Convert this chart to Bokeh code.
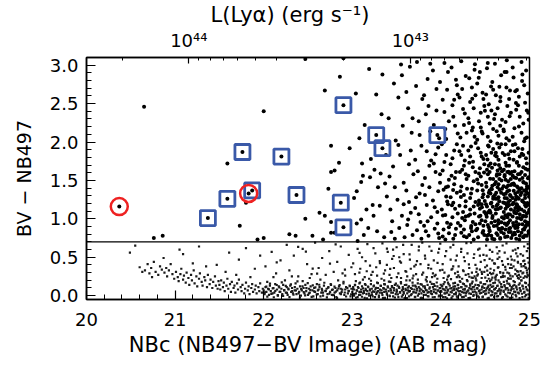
import math
from bokeh.plotting import figure
from bokeh.models import LinearAxis, FixedTicker, Span, Range1d, NumeralTickFormatter
from bokeh.embed import file_html
from bokeh.resources import INLINE

# ---------------- data ----------------
# candidates marked with blue squares
sq_x = [21.37, 21.59, 21.76, 21.87, 22.20, 22.37, 22.87, 22.90, 22.90, 23.27, 23.34, 23.96]
sq_y = [1.01, 1.26, 1.87, 1.37, 1.81, 1.31, 1.21, 0.89, 2.48, 2.09, 1.92, 2.09]
# candidates marked with red circles
rc_x = [20.37, 21.83]
rc_y = [1.16, 1.33]

# sparse objects above the colour cut
sparse_pts = [(20.65,2.46),(20.76,0.75),(20.86,0.78),(21.59,1.72),(21.73,0.91),(21.80,1.21),(21.93,0.73),
    (22.00,0.75),(22.00,2.40),(22.29,0.80),(22.36,0.78),(22.47,1.00),(22.55,0.78),(22.63,1.08),(22.67,0.73),
    (22.69,1.04),(22.69,2.67),(22.73,1.39),(22.76,0.96),(22.76,0.82),(22.80,0.82),(22.76,1.61),(22.80,1.63),
    (22.85,1.73),(22.76,1.95),(22.86,2.85),(22.97,1.92),(22.47,3.08),(22.90,3.09),
    (23.04,2.63),(23.05,1.36),(23.05,0.94),(23.10,0.99),(23.11,1.72),(23.12,1.56),(23.13,0.79),(23.14,2.22),
    (23.06,0.71),(23.20,1.54),(23.21,1.78),(23.23,1.18),(23.24,1.04),(23.25,1.64),(23.28,0.84),(23.31,1.17),
    (23.32,1.59),(23.37,1.46),(23.39,1.29),(23.02,1.27),(23.08,2.05),(23.16,1.12),(23.18,0.88),(23.27,2.62),
    (23.29,1.41),(23.33,2.36),(23.36,0.76),(23.38,1.83),(23.19,2.95),(23.34,2.88),(23.10,1.48)]

# faint objects above the colour cut (dense region)
dense_pts = [
 (23.41,2.31),(23.43,1.12),(23.44,0.83),(23.46,1.68),(23.47,2.76),(23.48,1.41),(23.45,0.97),(23.49,2.02),(23.42,1.55),(23.48,0.74),
 (23.51,1.25),(23.52,2.58),(23.53,0.88),(23.54,1.83),(23.55,3.01),(23.56,1.04),(23.57,2.21),(23.58,1.47),(23.59,0.76),(23.52,1.96),(23.56,2.87),(23.58,1.19),
 (23.61,1.37),(23.62,0.92),(23.63,2.44),(23.64,1.71),(23.65,2.98),(23.66,1.08),(23.67,2.12),(23.68,0.79),(23.69,1.58),(23.61,2.65),(23.64,1.22),(23.66,1.89),(23.68,2.31),(23.63,0.99),
 (23.71,1.14),(23.72,2.73),(23.73,0.85),(23.74,1.62),(23.75,2.27),(23.76,1.33),(23.77,0.96),(23.78,1.95),(23.79,2.56),(23.71,1.77),(23.73,3.04),(23.75,1.06),(23.76,2.09),(23.78,0.74),(23.79,1.44),(23.72,1.28),
 (23.81,0.91),(23.82,1.53),(23.83,2.36),(23.84,1.18),(23.85,2.82),(23.86,0.78),(23.87,1.69),(23.88,2.14),(23.89,1.02),(23.81,2.61),(23.82,1.31),(23.84,1.88),(23.85,0.97),(23.86,2.47),(23.87,1.41),(23.88,3.02),(23.89,1.76),(23.83,0.84),
 (23.91,1.24),(23.92,2.22),(23.93,0.87),(23.94,1.61),(23.95,2.69),(23.96,1.09),(23.97,1.93),(23.98,0.75),(23.99,1.47),(23.91,2.93),(23.92,1.72),(23.93,1.15),(23.95,2.41),(23.96,0.94),(23.97,1.36),(23.98,2.05),(23.99,2.78),(23.94,1.84),(23.97,0.81),(23.99,1.58),
 (24.01,1.12),(24.02,2.55),(24.03,0.86),(24.04,1.74),(24.05,2.17),(24.06,1.29),(24.07,0.95),(24.08,2.91),(24.09,1.51),(24.01,1.97),(24.02,0.77),(24.03,1.38),(24.04,2.39),(24.05,1.05),(24.06,1.83),(24.07,2.68),(24.08,1.19),(24.09,0.89),(24.02,1.63),(24.04,3.03),(24.06,2.04),(24.08,1.42),(24.09,2.27),(24.05,0.73),
 (24.11,0.93),(24.12,1.56),(24.13,2.48),(24.14,1.21),(24.15,1.89),(24.16,0.79),(24.17,2.81),(24.18,1.34),(24.19,2.11),(24.11,1.71),(24.12,2.97),(24.13,1.02),(24.14,2.33),(24.15,1.45),(24.16,1.13),(24.17,0.87),(24.18,1.97),(24.19,2.62),(24.11,1.28),(24.13,1.79),(24.14,0.74),(24.16,2.21),(24.17,1.61),(24.18,2.74),(24.19,1.07),(24.15,2.55),
 (24.21,1.17),(24.22,2.06),(24.23,0.82),(24.24,1.64),(24.25,2.43),(24.26,1.31),(24.27,0.98),(24.28,2.86),(24.29,1.52),(24.21,1.88),(24.22,0.91),(24.23,1.42),(24.24,2.69),(24.25,1.09),(24.26,2.22),(24.27,1.76),(24.28,1.23),(24.29,0.76),(24.21,2.58),(24.22,1.36),(24.23,3.05),(24.24,1.01),(24.25,1.95),(24.26,0.86),(24.27,2.37),(24.28,1.58),(24.29,2.12),(24.23,1.83),(24.26,1.69),(24.28,1.03),
 (24.31,1.04),(24.32,1.73),(24.33,2.52),(24.34,0.88),(24.35,1.39),(24.36,2.19),(24.37,1.16),(24.38,2.94),(24.39,1.61),(24.31,2.31),(24.32,0.79),(24.33,1.27),(24.34,1.94),(24.35,2.71),(24.36,0.96),(24.37,1.49),(24.38,2.07),(24.39,1.22),(24.31,1.56),(24.32,2.83),(24.33,1.81),(24.34,1.33),(24.35,0.84),(24.36,1.67),(24.37,2.44),(24.38,1.07),(24.39,0.93),(24.31,1.89),(24.33,1.12),(24.35,2.15),(24.37,0.73),(24.39,2.61),
 (24.41,0.87),(24.42,1.46),(24.43,2.27),(24.44,1.13),(24.45,1.86),(24.46,0.98),(24.47,2.64),(24.48,1.32),(24.49,1.71),(24.41,2.03),(24.42,0.76),(24.43,1.24),(24.44,2.91),(24.45,1.55),(24.46,1.19),(24.47,2.11),(24.48,0.91),(24.49,2.47),(24.41,1.37),(24.42,1.92),(24.43,1.03),(24.44,1.66),(24.45,2.38),(24.46,1.44),(24.47,0.82),(24.48,1.78),(24.49,1.09),(24.41,2.76),(24.42,1.18),(24.43,1.59),(24.44,0.94),(24.45,2.19),(24.46,1.81),(24.47,1.28),(24.48,2.56),(24.49,0.79),
 (24.51,1.06),(24.52,1.64),(24.53,2.33),(24.54,0.89),(24.55,1.37),(24.56,2.01),(24.57,1.21),(24.58,2.78),(24.59,1.52),(24.51,1.83),(24.52,0.78),(24.53,1.29),(24.54,2.49),(24.55,1.11),(24.56,1.72),(24.57,0.95),(24.58,1.43),(24.59,2.17),(24.51,2.62),(24.52,1.16),(24.53,1.58),(24.54,1.94),(24.55,0.84),(24.56,1.33),(24.57,2.41),(24.58,1.01),(24.59,1.26),(24.51,1.47),(24.52,2.96),(24.53,0.92),(24.54,1.69),(24.55,2.24),(24.56,1.08),(24.57,1.86),(24.58,0.74),(24.59,1.91),(24.53,2.07),(24.55,1.61),(24.57,1.39),(24.59,2.68),
 (24.61,0.97),(24.62,1.48),(24.63,2.14),(24.64,1.19),(24.65,1.77),(24.66,0.86),(24.67,2.53),(24.68,1.34),(24.69,1.62),(24.61,2.36),(24.62,1.07),(24.63,1.56),(24.64,0.79),(24.65,1.28),(24.66,1.93),(24.67,1.14),(24.68,2.87),(24.69,1.02),(24.61,1.71),(24.62,2.61),(24.63,0.91),(24.64,1.41),(24.65,2.08),(24.66,1.23),(24.67,1.66),(24.68,0.83),(24.69,2.29),(24.61,1.31),(24.62,1.86),(24.63,1.17),(24.64,2.44),(24.65,0.94),(24.66,1.52),(24.67,0.75),(24.68,1.97),(24.69,1.39),(24.61,3.02),(24.63,1.81),(24.65,1.45),(24.67,2.21),(24.69,0.88),(24.62,1.26),(24.64,1.63),(24.66,2.72),
 (24.71,1.09),(24.72,1.57),(24.73,2.26),(24.74,0.92),(24.75,1.36),(24.76,1.84),(24.77,1.18),(24.78,2.67),(24.79,1.44),(24.71,0.81),(24.72,1.27),(24.73,1.73),(24.74,2.05),(24.75,1.02),(24.76,1.49),(24.77,0.87),(24.78,1.31),(24.79,2.38),(24.71,1.64),(24.72,2.91),(24.73,1.13),(24.74,1.41),(24.75,0.77),(24.76,1.22),(24.77,1.69),(24.78,0.98),(24.79,1.88),(24.71,2.14),(24.72,0.94),(24.73,1.51),(24.74,1.19),(24.75,2.47),(24.76,1.06),(24.77,1.37),(24.78,1.59),(24.79,1.12),(24.71,1.32),(24.72,1.83),(24.73,0.86),(24.74,2.71),(24.75,1.61),(24.76,0.95),(24.77,2.02),(24.78,1.24),(24.79,0.83),(24.73,1.97),(24.75,1.16),(24.77,2.56),
 (24.81,1.03),(24.82,1.46),(24.83,2.18),(24.84,0.88),(24.85,1.29),(24.86,1.74),(24.87,1.11),(24.88,2.59),(24.89,1.38),(24.81,0.79),(24.82,1.21),(24.83,1.62),(24.84,1.97),(24.85,0.96),(24.86,1.42),(24.87,0.84),(24.88,1.26),(24.89,2.33),(24.81,1.56),(24.82,2.84),(24.83,1.08),(24.84,1.33),(24.85,0.74),(24.86,1.17),(24.87,1.58),(24.88,0.93),(24.89,1.81),(24.81,2.07),(24.82,0.91),(24.83,1.44),(24.84,1.14),(24.85,2.42),(24.86,1.01),(24.87,1.35),(24.88,1.69),(24.89,1.06),(24.81,1.27),(24.82,1.77),(24.83,0.82),(24.84,2.66),(24.85,1.53),(24.86,0.89),(24.87,1.92),(24.88,1.15),(24.89,0.78),(24.81,2.97),(24.83,1.88),(24.85,1.19),(24.87,2.48),(24.89,1.51),
 (24.91,1.12),(24.92,1.53),(24.93,2.24),(24.94,0.86),(24.95,1.31),(24.96,1.79),(24.97,1.07),(24.98,2.63),(24.99,1.41),(24.91,0.82),(24.92,1.24),(24.93,1.67),(24.94,2.01),(24.95,0.97),(24.96,1.46),(24.97,0.78),(24.98,1.33),(24.99,2.29),(24.91,1.61),(24.92,2.88),(24.93,1.04),(24.94,1.37),(24.95,0.89),(24.96,1.16),(24.97,1.72),(24.98,0.95),(24.99,1.86),(24.91,2.12),(24.92,0.93),(24.93,1.48),(24.94,1.21),(24.95,2.51),(24.96,1.03),(24.97,1.39),(24.98,1.64),(24.99,1.09),(24.91,1.34),(24.92,1.91),(24.93,0.76),(24.94,2.74),(24.95,1.57),(24.96,0.91),(24.97,2.06),(24.98,1.18),(24.99,0.84),(24.91,3.04),(24.93,1.83),(24.95,1.27),(24.97,2.41),(24.99,1.54)]

# the very crowded corner at faint magnitudes / low colour
crowded_pts = [
 (24.463,1.152),(24.478,0.843),(24.487,1.604),(24.495,1.233),(24.502,0.967),(24.514,1.418),(24.521,0.731),(24.526,1.772),(24.533,1.087),(24.541,1.341),
 (24.548,0.856),(24.556,1.523),(24.563,1.198),(24.569,0.779),(24.577,1.664),(24.584,1.036),(24.591,1.287),(24.598,0.908),(24.606,1.451),(24.612,1.823),
 (24.619,1.124),(24.627,0.812),(24.633,1.579),(24.641,1.263),(24.648,0.983),(24.655,1.702),(24.662,1.379),(24.669,0.742),(24.676,1.146),(24.684,1.498),
 (24.691,0.873),(24.697,1.857),(24.704,1.213),(24.711,1.004),(24.718,1.552),(24.725,0.764),(24.732,1.327),(24.739,1.691),(24.746,0.931),(24.752,1.164),
 (24.759,1.433),(24.766,0.827),(24.773,1.783),(24.78,1.058),(24.787,1.296),(24.794,0.752),(24.801,1.611),(24.808,1.189),(24.815,0.946),(24.822,1.364),
 (24.829,1.538),(24.836,0.798),(24.843,1.247),(24.85,1.072),(24.857,1.729),(24.864,0.887),(24.871,1.406),(24.878,1.138),(24.885,0.729),(24.892,1.583),
 (24.899,1.311),(24.906,0.994),(24.913,1.847),(24.92,1.229),(24.927,0.861),(24.934,1.472),(24.941,1.098),(24.948,0.783),(24.955,1.652),(24.962,1.356),
 (24.969,0.952),(24.976,1.206),(24.983,1.527),(24.99,0.817),(24.997,1.119),
 (24.472,1.372),(24.509,1.191),(24.538,0.794),(24.552,1.093),(24.574,1.384),(24.603,0.734),(24.624,1.338),(24.644,1.129),(24.661,1.581),(24.683,0.957),
 (24.707,1.423),(24.728,1.048),(24.744,1.267),(24.763,1.612),(24.782,0.881),(24.804,1.452),(24.826,1.103),(24.847,0.909),(24.866,1.276),(24.888,1.012),
 (24.909,1.398),(24.931,0.762),(24.952,1.177),(24.973,1.423),(24.994,1.287),(24.517,1.026),(24.586,1.156),(24.652,0.871),(24.721,1.206),(24.789,1.517),
 (24.858,1.187),(24.924,1.026),(24.987,0.923),
 (24.318,2.247),(24.354,2.563),(24.392,1.987),(24.427,2.838),(24.461,2.136),(24.497,2.406),(24.532,1.953),(24.566,2.721),(24.601,2.298),(24.637,1.981),
 (24.672,2.587),(24.707,2.163),(24.741,2.912),(24.776,2.334),(24.812,1.962),(24.847,2.508),(24.881,2.202),(24.916,2.793),(24.951,2.047),(24.986,2.382),
 (24.529,3.027),(24.744,3.064),(24.962,2.931),(24.384,3.011),(24.858,2.676),
 (24.023,1.043),(24.057,1.412),(24.091,0.812),(24.124,1.178),(24.158,1.533),(24.192,0.946),(24.226,1.284),(24.261,0.774),(24.295,1.391),(24.329,1.057),
 (24.363,1.743),(24.397,0.851),(24.431,1.206),(24.215,1.609),(24.342,0.906),(24.409,1.512),(24.138,1.376),(24.071,1.224),(24.277,1.162),(24.446,1.041)]

# the bulk of the catalogue below the colour cut
cloud_pts = [
 (20.49,0.56),(20.55,0.65),(20.6,0.37),(20.63,0.31),(20.66,0.33),(20.69,0.41),(20.71,0.29),(20.73,0.36),(20.76,0.44),(20.78,0.31),(20.81,0.27),(20.83,0.38),(20.85,0.34),(20.87,0.49),(20.88,0.3),(20.91,0.25),(20.93,0.33),(20.95,0.41),(20.97,0.28),(20.99,0.22),(20.74,0.24),(20.9,0.36),
 (21.01,0.31),(21.03,0.24),(21.04,0.19),(21.06,0.28),(21.07,0.35),(21.09,0.21),(21.1,0.26),(21.12,0.17),(21.13,0.3),(21.15,0.23),(21.16,0.14),(21.18,0.27),(21.19,0.2),(21.21,0.33),(21.22,0.16),(21.24,0.25),(21.25,0.12),(21.27,0.22),(21.28,0.29),(21.3,0.18),(21.31,0.13),(21.33,0.24),(21.34,0.2),(21.36,0.11),(21.37,0.27),(21.39,0.15),(21.4,0.21),(21.42,0.1),(21.43,0.18),(21.45,0.25),(21.46,0.13),(21.48,0.09),(21.49,0.19),(21.05,0.6),(21.09,0.54),(21.27,0.64),(21.2,0.42),(21.35,0.38),
 (21.5,0.14),(21.51,0.08),(21.52,0.2),(21.54,0.11),(21.55,0.17),(21.56,0.06),(21.58,0.13),(21.59,0.22),(21.6,0.09),(21.62,0.15),(21.63,0.05),(21.64,0.18),(21.66,0.1),(21.67,0.13),(21.68,0.04),(21.7,0.16),(21.71,0.08),(21.72,0.21),(21.74,0.11),(21.75,0.06),(21.76,0.14),(21.78,0.03),(21.79,0.09),(21.8,0.17),(21.82,0.07),(21.83,0.12),(21.84,0.02),(21.86,0.1),(21.87,0.15),(21.88,0.05),(21.9,0.08),(21.91,0.13),(21.92,0.03),(21.94,0.11),(21.95,0.06),(21.96,0.16),(21.98,0.04),(21.99,0.09),(21.47,0.4),(21.61,0.56),(21.72,0.47),(21.8,0.62),(21.9,0.35),(21.57,0.31),(21.96,0.52),(21.69,0.27),(21.85,0.24),
 (22.0,0.07),(22.01,0.02),(22.02,0.11),(22.03,0.05),(22.05,0.09),(22.06,0.01),(22.07,0.13),(22.08,0.06),(22.1,0.03),(22.11,0.1),(22.12,0.04),(22.13,0.15),(22.15,0.08),(22.16,0.0),(22.17,0.12),(22.18,0.05),(22.2,0.09),(22.21,0.02),(22.22,0.14),(22.23,0.07),(22.25,0.04),(22.26,0.11),(22.27,0.01),(22.28,0.08),(22.3,0.13),(22.31,0.05),(22.32,0.1),(22.33,0.03),(22.35,0.07),(22.36,0.16),(22.37,0.02),(22.38,0.09),(22.4,0.05),(22.41,0.12),(22.42,0.0),(22.43,0.07),(22.45,0.1),(22.46,0.03),(22.47,0.14),(22.48,0.06),(22.5,0.01),(22.51,0.09),(22.52,0.04),(22.53,0.12),(22.55,0.07),(22.56,-0.01),(22.57,0.1),(22.58,0.05),(22.6,0.15),(22.61,0.02),(22.62,0.08),(22.63,0.11),(22.65,0.04),(22.66,0.07),(22.67,0.0),(22.68,0.13),(22.7,0.06),(22.71,0.09),(22.72,0.02),(22.73,0.11),(22.75,0.05),(22.76,0.14),(22.77,0.01),(22.78,0.08),(22.8,0.04),(22.81,0.1),(22.82,-0.02),(22.83,0.07),(22.85,0.12),(22.86,0.03),(22.87,0.09),(22.88,0.05),(22.9,0.16),(22.91,0.01),(22.92,0.08),(22.93,0.11),(22.95,0.03),(22.96,0.06),(22.97,0.13),(22.98,-0.01),(22.99,0.09),(22.04,0.18),(22.24,0.2),(22.44,0.19),(22.64,0.21),(22.84,0.2),
 (22.02,0.38),(22.09,0.57),(22.14,0.29),(22.19,0.46),(22.26,0.66),(22.29,0.33),(22.34,0.52),(22.39,0.25),(22.44,0.61),(22.49,0.41),(22.54,0.28),(22.58,0.69),(22.62,0.36),(22.66,0.49),(22.7,0.27),(22.74,0.58),(22.79,0.31),(22.83,0.44),(22.87,0.64),(22.92,0.26),(22.96,0.53),(22.99,0.37),(22.11,0.24),(22.52,0.23),(22.89,0.29),
 (23.0,0.05),(23.01,0.11),(23.02,0.0),(23.02,0.08),(23.03,0.14),(23.04,0.03),(23.05,0.07),(23.06,-0.02),(23.07,0.1),(23.08,0.05),(23.08,0.16),(23.09,0.01),(23.1,0.08),(23.11,0.12),(23.12,0.03),(23.13,0.06),(23.14,-0.03),(23.15,0.09),(23.15,0.14),(23.16,0.02),(23.17,0.06),(23.18,0.11),(23.19,0.0),(23.2,0.07),(23.21,0.15),(23.22,0.04),(23.22,0.09),(23.23,-0.01),(23.24,0.12),(23.25,0.05),(23.26,0.08),(23.27,0.02),(23.28,0.17),(23.29,0.06),(23.29,0.1),(23.3,-0.02),(23.31,0.04),(23.32,0.13),(23.33,0.07),(23.34,0.01),(23.35,0.1),(23.36,0.05),(23.36,0.15),(23.37,-0.03),(23.38,0.08),(23.39,0.03),(23.4,0.12),(23.41,0.06),(23.42,0.0),(23.43,0.09),(23.43,0.18),(23.44,0.04),(23.45,0.11),(23.46,-0.01),(23.47,0.07),(23.48,0.14),(23.49,0.02),(23.5,0.08),(23.5,0.05),(23.51,0.13),(23.52,-0.02),(23.53,0.1),(23.54,0.04),(23.55,0.16),(23.56,0.07),(23.57,0.01),(23.57,0.11),(23.58,0.05),(23.59,-0.03),(23.6,0.09),(23.61,0.14),(23.62,0.03),(23.63,0.07),(23.64,0.12),(23.64,-0.01),(23.65,0.06),(23.66,0.1),(23.67,0.02),(23.68,0.17),(23.69,0.05),(23.7,0.08),(23.71,-0.02),(23.71,0.13),(23.72,0.04),(23.73,0.09),(23.74,0.0),(23.75,0.11),(23.76,0.06),(23.77,0.15),(23.78,0.03),(23.78,0.08),(23.79,-0.03),(23.8,0.12),(23.81,0.05),(23.82,0.1),(23.83,0.01),(23.84,0.07),(23.85,0.14),(23.85,0.04),(23.86,-0.01),(23.87,0.09),(23.88,0.18),(23.89,0.06),(23.9,0.02),(23.91,0.11),(23.92,0.05),(23.92,0.15),(23.93,-0.02),(23.94,0.08),(23.95,0.03),(23.96,0.12),(23.97,0.07),(23.98,0.0),(23.99,0.1),(23.99,0.05),(23.12,0.21),(23.33,0.22),(23.55,0.23),(23.74,0.21),(23.9,0.24),
 (23.01,0.42),(23.03,0.28),(23.06,0.61),(23.09,0.35),(23.11,0.5),(23.14,0.24),(23.17,0.67),(23.2,0.39),(23.23,0.31),(23.26,0.55),(23.28,0.26),(23.31,0.45),(23.34,0.68),(23.37,0.33),(23.4,0.57),(23.42,0.27),(23.45,0.48),(23.47,0.36),(23.5,0.63),(23.52,0.29),(23.55,0.43),(23.58,0.54),(23.6,0.32),(23.62,0.25),(23.65,0.47),(23.67,0.66),(23.7,0.38),(23.72,0.28),(23.75,0.59),(23.77,0.41),(23.8,0.3),(23.82,0.52),(23.84,0.24),(23.87,0.64),(23.89,0.35),(23.92,0.46),(23.94,0.27),(23.97,0.56),(23.99,0.33),(23.04,0.19),(23.19,0.22),(23.36,0.2),(23.44,0.23),(23.61,0.2),(23.69,0.26),(23.83,0.21),(23.96,0.22),(23.15,0.45),(23.24,0.62),(23.39,0.4),(23.53,0.5),(23.66,0.35),(23.79,0.69),(23.91,0.29),(23.08,0.3),(23.46,0.6),(23.73,0.45),(23.86,0.4),(23.98,0.61),(23.27,0.37),
 (24.0,0.06),(24.01,0.12),(24.01,0.0),(24.02,0.09),(24.03,0.15),(24.04,0.03),(24.05,0.07),(24.05,-0.02),(24.06,0.11),(24.07,0.04),(24.08,0.17),(24.08,0.08),(24.09,0.01),(24.1,0.13),(24.11,0.05),(24.12,0.1),(24.12,-0.03),(24.13,0.07),(24.14,0.16),(24.15,0.02),(24.15,0.09),(24.16,0.12),(24.17,0.04),(24.18,-0.01),(24.19,0.14),(24.19,0.07),(24.2,0.1),(24.21,0.02),(24.22,0.18),(24.22,0.06),(24.23,0.11),(24.24,-0.02),(24.25,0.08),(24.26,0.04),(24.26,0.15),(24.27,0.09),(24.28,0.0),(24.29,0.12),(24.29,0.05),(24.3,0.19),(24.31,0.07),(24.32,0.03),(24.33,0.13),(24.33,-0.03),(24.34,0.09),(24.35,0.16),(24.36,0.05),(24.36,0.11),(24.37,0.01),(24.38,0.08),(24.39,0.14),(24.4,0.04),(24.4,0.2),(24.41,0.1),(24.42,-0.01),(24.43,0.06),(24.43,0.13),(24.44,0.03),(24.45,0.17),(24.46,0.08),(24.47,0.12),(24.47,-0.02),(24.48,0.05),(24.49,0.1),(24.5,0.15),(24.5,0.02),(24.51,0.07),(24.52,0.19),(24.53,0.11),(24.54,0.04),(24.54,-0.03),(24.55,0.09),(24.56,0.14),(24.57,0.06),(24.57,0.21),(24.58,0.01),(24.59,0.12),(24.6,0.08),(24.61,0.17),(24.61,0.03),(24.62,0.1),(24.63,-0.01),(24.64,0.13),(24.64,0.06),(24.65,0.2),(24.66,0.09),(24.67,0.02),(24.68,0.15),(24.68,0.07),(24.69,0.11),(24.7,-0.02),(24.71,0.18),(24.71,0.05),(24.72,0.12),(24.73,0.08),(24.74,0.0),(24.75,0.16),(24.75,0.1),(24.76,0.04),(24.77,0.22),(24.78,0.13),(24.78,-0.03),(24.79,0.07),(24.8,0.11),(24.81,0.02),(24.82,0.19),(24.82,0.09),(24.83,0.14),(24.84,0.05),(24.85,-0.01),(24.85,0.12),(24.86,0.08),(24.87,0.23),(24.88,0.03),(24.89,0.16),(24.89,0.1),(24.9,0.06),(24.91,0.2),(24.92,-0.02),(24.92,0.13),(24.93,0.09),(24.94,0.04),(24.95,0.17),(24.96,0.11),(24.96,0.01),(24.97,0.24),(24.98,0.07),(24.99,0.14),(24.99,-0.03),(24.03,0.23),(24.18,0.24),(24.38,0.25),(24.63,0.27),(24.84,0.28),
 (24.02,0.41),(24.04,0.3),(24.06,0.58),(24.09,0.26),(24.11,0.47),(24.13,0.35),(24.14,0.66),(24.16,0.29),(24.18,0.52),(24.2,0.38),(24.21,0.24),(24.23,0.61),(24.25,0.33),(24.27,0.45),(24.28,0.27),(24.3,0.55),(24.32,0.36),(24.34,0.69),(24.35,0.3),(24.37,0.49),(24.39,0.4),(24.41,0.26),(24.42,0.6),(24.44,0.34),(24.45,0.44),(24.46,0.23),(24.48,0.53),(24.49,0.31),(24.51,0.65),(24.52,0.39),(24.53,0.27),(24.55,0.48),(24.56,0.35),(24.58,0.57),(24.59,0.29),(24.6,0.42),(24.62,0.25),(24.63,0.63),(24.65,0.37),(24.66,0.5),(24.67,0.3),(24.69,0.45),(24.7,0.26),(24.72,0.56),(24.73,0.34),(24.74,0.68),(24.76,0.41),(24.77,0.29),(24.79,0.51),(24.8,0.36),(24.81,0.25),(24.83,0.46),(24.84,0.6),(24.86,0.32),(24.87,0.43),(24.88,0.27),(24.9,0.54),(24.91,0.38),(24.93,0.3),(24.94,0.64),(24.95,0.41),(24.97,0.33),(24.98,0.49),(24.99,0.26),(24.07,0.21),(24.24,0.22),(24.31,0.28),(24.46,0.31),(24.54,0.22),(24.6,0.33),(24.68,0.24),(24.75,0.3),(24.82,0.38),(24.88,0.22),(24.92,0.29),(24.96,0.36),(24.99,0.43),(24.58,0.46),(24.7,0.4),(24.8,0.47),(24.9,0.32),(24.95,0.25),(24.85,0.55),(24.78,0.36),(24.64,0.48),(24.5,0.37),(24.4,0.31),(24.26,0.5),(24.12,0.34),(24.97,0.58),(24.93,0.45),(24.72,0.25),(24.57,0.28),(24.36,0.23),(24.19,0.31),(24.87,0.62),(24.66,0.58),(24.44,0.52),(24.98,0.67)]

# more of the crowded low-colour band
band_pts = [
 (22.013,0.043),(22.029,0.118),(22.041,-0.012),(22.058,0.081),(22.071,0.157),(22.086,0.024),(22.102,0.096),(22.114,-0.021),(22.131,0.062),(22.147,0.139),(22.159,0.008),(22.176,0.107),(22.188,0.051),(22.204,0.174),(22.219,-0.004),(22.233,0.072),(22.249,0.128),(22.262,0.035),(22.278,0.091),(22.291,-0.018),(22.307,0.146),(22.322,0.059),(22.336,0.013),(22.351,0.112),(22.364,0.067),(22.381,0.187),(22.394,0.029),(22.409,-0.026),(22.423,0.084),(22.438,0.121),(22.452,0.047),(22.468,0.003),(22.482,0.098),(22.497,0.162),(22.511,0.031),(22.526,0.076),(22.541,-0.015),(22.554,0.133),(22.569,0.056),(22.583,0.109),(22.598,0.018),(22.612,0.069),(22.627,0.142),(22.641,-0.009),(22.656,0.087),(22.669,0.039),(22.684,0.168),(22.698,0.061),(22.713,-0.023),(22.727,0.103),(22.742,0.027),(22.756,0.149),(22.771,0.074),(22.785,0.006),(22.799,0.117),(22.814,0.052),(22.828,-0.031),(22.843,0.093),(22.857,0.136),(22.872,0.019),(22.886,0.078),(22.901,0.181),(22.915,0.041),(22.93,-0.011),(22.944,0.099),(22.958,0.064),(22.973,0.124),(22.987,0.016),
 (23.008,0.088),(23.019,0.021),(23.031,0.137),(23.042,-0.027),(23.053,0.066),(23.064,0.112),(23.076,0.009),(23.087,0.171),(23.098,0.048),(23.109,-0.014),(23.121,0.094),(23.132,0.036),(23.143,0.152),(23.154,0.071),(23.166,-0.035),(23.177,0.119),(23.188,0.027),(23.199,0.083),(23.211,0.194),(23.222,0.011),(23.233,0.057),(23.244,0.131),(23.256,-0.019),(23.267,0.102),(23.278,0.044),(23.289,0.163),(23.301,0.002),(23.312,0.079),(23.323,0.126),(23.334,0.033),(23.346,-0.029),(23.357,0.091),(23.368,0.147),(23.379,0.054),(23.391,0.014),(23.402,0.108),(23.413,0.183),(23.424,-0.008),(23.436,0.069),(23.447,0.124),(23.458,0.038),(23.469,0.097),(23.481,-0.024),(23.492,0.157),(23.503,0.061),(23.514,0.017),(23.526,0.114),(23.537,0.046),(23.548,0.176),(23.559,-0.013),(23.571,0.086),(23.582,0.028),(23.593,0.139),(23.604,0.073),(23.616,-0.033),(23.627,0.104),(23.638,0.052),(23.649,0.198),(23.661,0.006),(23.672,0.089),(23.683,0.131),(23.694,0.042),(23.706,-0.017),(23.717,0.116),(23.728,0.067),(23.739,0.161),(23.751,0.023),(23.762,0.092),(23.773,-0.028),(23.784,0.144),(23.796,0.058),(23.807,0.011),(23.818,0.121),(23.829,0.075),(23.841,0.186),(23.852,-0.006),(23.863,0.049),(23.874,0.109),(23.886,0.031),(23.897,0.153),(23.908,-0.021),(23.919,0.082),(23.931,0.127),(23.942,0.037),(23.953,0.171),(23.964,0.064),(23.976,-0.011),(23.987,0.098),(23.998,0.142),
 (24.006,0.052),(24.015,0.127),(24.024,-0.019),(24.033,0.081),(24.042,0.176),(24.051,0.029),(24.06,0.103),(24.069,-0.034),(24.078,0.066),(24.087,0.149),(24.096,0.012),(24.105,0.093),(24.114,0.214),(24.123,0.041),(24.132,-0.008),(24.141,0.118),(24.15,0.074),(24.159,0.166),(24.168,0.019),(24.177,0.087),(24.186,-0.027),(24.195,0.136),(24.204,0.056),(24.213,0.191),(24.222,0.007),(24.231,0.112),(24.24,0.045),(24.249,0.157),(24.258,-0.015),(24.267,0.078),(24.276,0.129),(24.285,0.033),(24.294,0.203),(24.303,0.064),(24.312,-0.031),(24.321,0.098),(24.33,0.147),(24.339,0.022),(24.348,0.083),(24.357,0.182),(24.366,-0.004),(24.375,0.116),(24.384,0.051),(24.393,0.226),(24.402,0.014),(24.411,0.091),(24.42,0.139),(24.429,-0.022),(24.438,0.068),(24.447,0.171),(24.456,0.037),(24.465,0.107),(24.474,-0.012),(24.483,0.152),(24.492,0.059),(24.501,0.234),(24.51,0.026),(24.519,0.094),(24.528,-0.036),(24.537,0.131),(24.546,0.072),(24.555,0.188),(24.564,0.004),(24.573,0.113),(24.582,0.047),(24.591,0.162),(24.6,-0.018),(24.609,0.085),(24.618,0.209),(24.627,0.031),(24.636,0.126),(24.645,-0.007),(24.654,0.069),(24.663,0.174),(24.672,0.043),(24.681,0.118),(24.69,-0.029),(24.699,0.245),(24.708,0.061),(24.717,0.137),(24.726,0.016),(24.735,0.097),(24.744,0.193),(24.753,-0.014),(24.762,0.076),(24.771,0.154),(24.78,0.034),(24.789,0.221),(24.798,0.088),(24.807,-0.024),(24.816,0.129),(24.825,0.053),(24.834,0.178),(24.843,0.009),(24.852,0.104),(24.861,0.258),(24.87,0.039),(24.879,0.142),(24.888,-0.033),(24.897,0.071),(24.906,0.197),(24.915,0.025),(24.924,0.119),(24.933,0.232),(24.942,0.048),(24.951,-0.011),(24.96,0.163),(24.969,0.082),(24.978,0.271),(24.987,0.017),(24.996,0.134),
 (23.312,0.423),(23.356,0.287),(23.391,0.612),(23.428,0.348),(23.467,0.516),(23.503,0.241),(23.538,0.447),(23.574,0.662),(23.609,0.311),(23.646,0.538),(23.681,0.226),(23.717,0.402),(23.752,0.637),(23.788,0.274),(23.823,0.481),(23.858,0.359),(23.894,0.583),(23.929,0.253),(23.962,0.426),(23.993,0.678),
 (24.017,0.336),(24.048,0.514),(24.079,0.247),(24.108,0.629),(24.139,0.382),(24.168,0.458),(24.197,0.263),(24.228,0.571),(24.257,0.318),(24.288,0.684),(24.316,0.407),(24.347,0.236),(24.376,0.539),(24.405,0.352),(24.436,0.611),(24.464,0.284),(24.493,0.463),(24.523,0.327),(24.552,0.597),(24.581,0.236),(24.61,0.418),(24.639,0.549),(24.668,0.307),(24.697,0.653),(24.726,0.375),(24.754,0.478),(24.783,0.262),(24.812,0.586),(24.841,0.339),(24.869,0.441),(24.898,0.245),(24.927,0.521),(24.955,0.369),(24.983,0.617),(24.613,0.236),(24.704,0.296),(24.792,0.404),(24.873,0.313),(24.935,0.384),(24.972,0.298),(24.516,0.521),(24.418,0.278),(24.321,0.246),(24.865,0.512),(24.941,0.455),(24.991,0.352),(24.758,0.226),(24.643,0.364),(24.555,0.297),(24.902,0.411),
 (22.147,0.432),(22.318,0.251),(22.476,0.573),(22.603,0.287),(22.748,0.416),(22.917,0.339),(23.082,0.558),(23.214,0.271),(22.389,0.634),(22.812,0.667),(23.163,0.318),(22.553,0.352)]

color_cut = 0.7

# axes
x_ticks = [20, 21, 22, 23, 24, 25]
y_ticks = [0.0, 0.5, 1.0, 1.5, 2.0, 2.5, 3.0]
lya_decades = [44, 43]
lya_labels = ["10\u2074\u2074", "10\u2074\u00b3"]
mag_of_1e43 = 23.655   # NBc magnitude where L(Lya) = 1e43 erg/s

# ---------------- figure ----------------
FONT = "DejaVu Sans"
p = figure(width=544, height=367, output_backend="svg", toolbar_location=None,
           x_range=Range1d(20, 25), y_range=Range1d(-0.05, 3.1),
           min_border_left=86, min_border_right=15, min_border_top=55, min_border_bottom=68,
           x_axis_label="NBc (NB497\u2212BV Image) (AB mag)",
           y_axis_label="BV \u2212 NB497")
p.grid.visible = False
p.outline_line_color = "black"
p.outline_line_width = 1.5
p.background_fill_color = "white"
p.border_fill_color = "white"

# the top axis title (Lya luminosity)
p.title.text = "L(Ly\u03b1) (erg s\u207b\u00b9)"
p.title.align = "left"
p.title.offset = 124
p.title.standoff = 0
p.title.text_font = FONT
p.title.text_font_size = "21px"
p.title.text_font_style = "normal"
p.title.text_color = "black"

def style(ax, tick_font="18px", label_font="19px", maj=9, mnr=5):
    ax.major_tick_in = maj
    ax.major_tick_out = 0
    ax.minor_tick_in = mnr
    ax.minor_tick_out = 0
    ax.axis_line_color = "black"
    ax.axis_line_width = 1.5
    ax.major_tick_line_color = "black"
    ax.minor_tick_line_color = "black"
    ax.major_tick_line_width = 1.2
    ax.minor_tick_line_width = 1
    ax.major_label_text_font = FONT
    ax.major_label_text_font_size = tick_font
    ax.major_label_text_color = "black"
    ax.axis_label_text_font = FONT
    ax.axis_label_text_font_size = label_font
    ax.axis_label_text_font_style = "normal"
    ax.axis_label_text_color = "black"

xb = p.xaxis[0]
style(xb, label_font="21px")
xb.ticker = FixedTicker(ticks=x_ticks, minor_ticks=[round(20 + 0.2 * i, 1) for i in range(26)])
xb.major_label_standoff = 13
xb.axis_label_standoff = 4

yl = p.yaxis[0]
style(yl)
y_minor = [round(0.1 * i, 1) for i in range(0, 32)]
yl.ticker = FixedTicker(ticks=y_ticks, minor_ticks=y_minor)
yl.formatter = NumeralTickFormatter(format="0.0")
yl.major_label_standoff = 8
yl.axis_label_standoff = 12

# top axis: Lya luminosity
top_major = [mag_of_1e43 - 2.5 * (d - 43) for d in lya_decades]
top_minor = []
for d in [44, 43, 42]:
    for k in range(2, 10):
        m = mag_of_1e43 - 2.5 * (d - 43 + math.log10(k))
        if 20 <= m <= 25:
            top_minor.append(m)
xt = LinearAxis(ticker=FixedTicker(ticks=top_major, minor_ticks=top_minor),
                major_label_overrides={m: s for m, s in zip(top_major, lya_labels)})
style(xt, maj=6, mnr=3)
xt.major_label_standoff = 7
p.add_layout(xt, "above")

# ---------------- data marks ----------------
lower = cloud_pts + band_pts
p.scatter([a for a, b in lower], [b for a, b in lower], marker="square", size=2.2,
          fill_color="#1a1a1a", line_color=None)

upper = sparse_pts + dense_pts + crowded_pts
p.scatter([a for a, b in upper], [b for a, b in upper], marker="circle", size=4,
          fill_color="black", line_color=None)
p.scatter(sq_x + rc_x, sq_y + rc_y, marker="circle", size=4, fill_color="black", line_color=None)

p.add_layout(Span(location=color_cut, dimension="width", line_color="black", line_width=1.3))

p.scatter(sq_x, sq_y, marker="square", size=15, fill_color=None, line_color="#3a59a8", line_width=2.8)
p.scatter(rc_x, rc_y, marker="circle", size=17, fill_color=None, line_color="#ee2222", line_width=2.5)

open("out.html", "w").write(file_html(p, INLINE))
